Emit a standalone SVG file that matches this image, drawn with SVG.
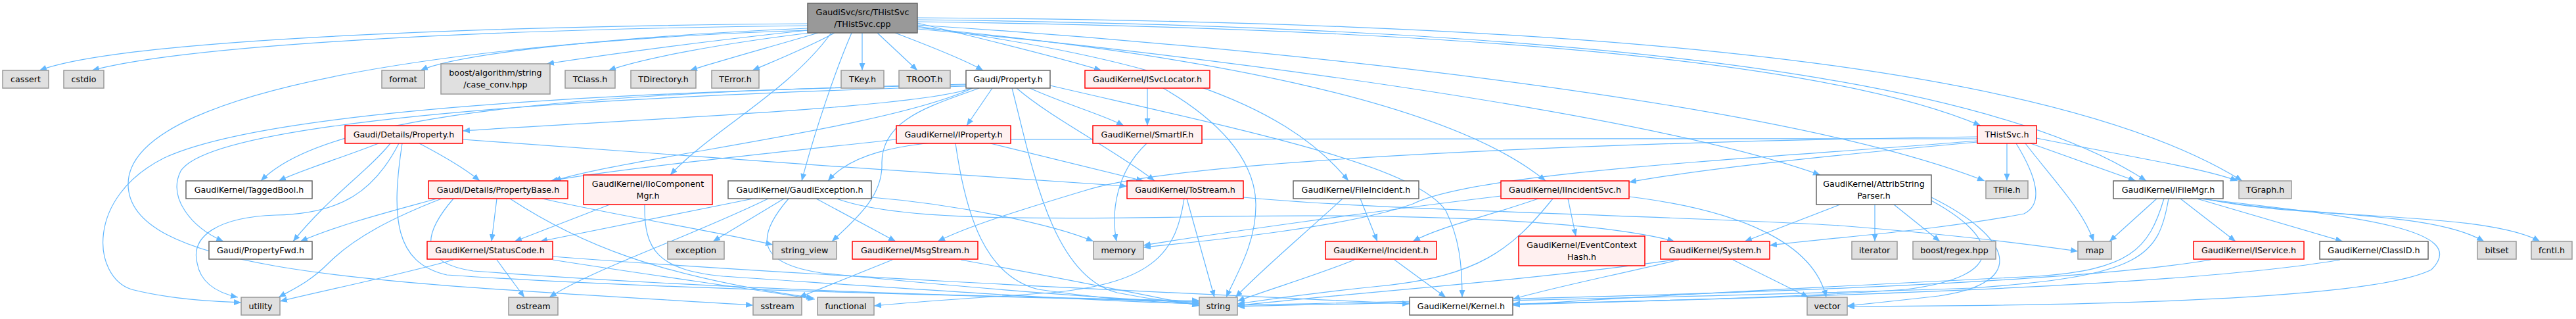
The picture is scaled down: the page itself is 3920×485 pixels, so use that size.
<svg xmlns="http://www.w3.org/2000/svg" width="3920" height="485" viewBox="0 0 3920 485">
<style>
.e{fill:none;stroke:#63b8ff;stroke-width:1.2;marker-end:url(#arr)}
.g{fill:#e0e0e0;stroke:#999999;stroke-width:1.5}
.w{fill:#ffffff;stroke:#666666;stroke-width:1.5}
.r{fill:#fff0f0;stroke:#ff0000;stroke-width:1.5}
.m{fill:#999999;stroke:#666666;stroke-width:1.5}
text{font-family:"DejaVu Sans","Liberation Sans",sans-serif;font-size:12.7px;fill:#000000;text-anchor:middle}
</style>
<defs>
<marker id="arr" markerUnits="userSpaceOnUse" markerWidth="11" markerHeight="9" refX="11" refY="4.5" orient="auto">
<path d="M0,0 L11,4.5 L0,9 z" fill="#63b8ff"/>
</marker>
</defs>
<rect width="3920" height="485" fill="#ffffff"/>
<g id="connectors">
<path class="e" d="M1229,36 C700,40 180,62 60,107"/>
<path class="e" d="M1229,39 C700,45 280,70 140,107"/>
<path class="e" d="M1229,43 C950,55 700,80 640,107"/>
<path class="e" d="M1229,46 C1080,62 930,82 832,97"/>
<path class="e" d="M1232,50 C1100,66 980,88 926,107"/>
<path class="e" d="M1245,50 C1170,72 1090,94 1050,107"/>
<path class="e" d="M1270,50 C1230,72 1180,92 1145,107"/>
<path class="e" d="M1312,50 L1312,107"/>
<path class="e" d="M1335,50 L1396,107"/>
<path class="e" d="M1362,50 C1420,72 1470,92 1496,107"/>
<path class="e" d="M1396,35 C1500,60 1620,90 1676,107"/>
<path class="e" d="M1265,50 C1200,140 1080,200 1020,266"/>
<path class="e" d="M1296,50 C1270,110 1240,200 1220,275"/>
<path class="e" d="M1396,40 C1750,90 1950,150 2052,275"/>
<path class="e" d="M1396,42 C1800,80 2200,150 2352,275"/>
<path class="e" d="M1396,44 C1800,80 2500,170 2770,266"/>
<path class="e" d="M1396,38 C1900,70 2700,150 3020,275"/>
<path class="e" d="M1396,33 C2300,45 2800,100 3014,191"/>
<path class="e" d="M1396,30 C2300,40 3000,100 3266,275"/>
<path class="e" d="M1396,27 C2300,33 3100,80 3412,275"/>
<path class="e" d="M1229,46 C800,60 195,120 195,280 C195,420 600,430 1146,464"/>
<path class="e" d="M1478,134 C1400,165 900,185 704,199"/>
<path class="e" d="M1480,134 C1350,195 950,240 843,275"/>
<path class="e" d="M1470,128 C900,140 500,170 397,275"/>
<path class="e" d="M1470,131 C800,150 320,190 275,260 C255,300 290,345 340,367"/>
<path class="e" d="M1470,129 C900,140 400,170 250,240 C130,300 140,420 200,440 C260,455 320,458 367,460"/>
<path class="e" d="M1510,134 L1471,191"/>
<path class="e" d="M1567,134 C1620,158 1680,175 1710,191"/>
<path class="e" d="M1547,134 C1600,180 1700,230 1757,275"/>
<path class="e" d="M1598,130 C1900,200 2150,250 2200,320 C2220,360 2225,400 2225,452"/>
<path class="e" d="M1540,134 C1570,250 1600,420 1700,445 C1750,455 1790,460 1825,463"/>
<path class="e" d="M1490,134 C1420,160 1340,180 1342,250 C1343,300 1300,335 1266,367"/>
<path class="e" d="M576,218 C520,240 460,258 424,275"/>
<path class="e" d="M594,218 C560,260 500,300 446,367"/>
<path class="e" d="M607,218 C570,290 520,325 420,327 C330,330 290,360 300,400 C305,430 330,445 362,452"/>
<path class="e" d="M638,218 C680,240 710,258 730,275"/>
<path class="e" d="M704,212 C1000,235 1400,262 1715,283"/>
<path class="e" d="M612,218 C595,330 600,400 680,418 C1000,440 1500,450 1825,459"/>
<path class="e" d="M665,302 C600,320 520,340 457,367"/>
<path class="e" d="M672,302 C600,330 540,360 500,400 C470,430 445,440 424,452"/>
<path class="e" d="M756,302 L748,367"/>
<path class="e" d="M825,302 C950,330 1080,350 1176,372"/>
<path class="e" d="M776,302 C880,370 1000,420 1238,453"/>
<path class="e" d="M690,302 C640,360 640,400 720,412 C1100,440 1500,452 1825,457"/>
<path class="e" d="M756,395 L798,452"/>
<path class="e" d="M690,395 C600,420 500,440 426,458"/>
<path class="e" d="M841,390 C1300,425 1900,450 2145,462"/>
<path class="e" d="M841,395 C1000,420 1150,440 1240,455"/>
<path class="e" d="M928,311 L783,367"/>
<path class="e" d="M981,311 C980,380 1000,410 1100,420 C1400,440 1600,455 1825,462"/>
<path class="e" d="M1146,302 L822,367"/>
<path class="e" d="M1193,302 L1085,367"/>
<path class="e" d="M1169,302 C1050,360 900,410 836,452"/>
<path class="e" d="M1200,302 C1150,360 1150,400 1250,415 C1500,440 1700,455 1825,460"/>
<path class="e" d="M1242,302 L1363,367"/>
<path class="e" d="M1326,300 C1450,310 1600,340 1664,367"/>
<path class="e" d="M1273,302 C1350,330 1500,335 1800,330 C2200,322 2450,340 2548,367"/>
<path class="e" d="M1358,395 L1216,452"/>
<path class="e" d="M1462,395 C1600,420 1750,450 1825,465"/>
<path class="e" d="M1364,212 C1200,230 950,255 838,275"/>
<path class="e" d="M1507,218 L1740,275"/>
<path class="e" d="M1454,218 C1470,330 1500,420 1580,440 C1680,455 1760,460 1825,462"/>
<path class="e" d="M1745,218 C1700,260 1690,320 1699,367"/>
<path class="e" d="M1746,134 L1746,191"/>
<path class="e" d="M1770,134 C1850,180 1910,240 1911,310 C1912,370 1880,420 1866,452"/>
<path class="e" d="M1806,302 L1848,452"/>
<path class="e" d="M1802,302 C1790,380 1760,430 1600,445 C1450,455 1380,460 1330,465"/>
<path class="e" d="M1892,300 C2100,320 2600,330 2800,343 C2950,355 3080,370 3162,382"/>
<path class="e" d="M2070,302 L2096,367"/>
<path class="e" d="M2043,302 C1980,360 1920,410 1880,452"/>
<path class="e" d="M2122,395 L2200,452"/>
<path class="e" d="M2061,395 C2000,420 1930,440 1883,458"/>
<path class="e" d="M2341,302 C2260,330 2190,345 2150,367"/>
<path class="e" d="M2386,302 L2398,359"/>
<path class="e" d="M2363,302 C2300,380 2250,420 2100,435 C2000,445 1930,455 1883,462"/>
<path class="e" d="M2479,299 C2650,320 2760,370 2779,452"/>
<path class="e" d="M2284,298 C2100,320 1850,355 1740,373"/>
<path class="e" d="M2555,395 C2450,420 2350,440 2302,455"/>
<path class="e" d="M2548,395 C2300,430 2000,450 1883,465"/>
<path class="e" d="M2637,395 L2752,452"/>
<path class="e" d="M2800,311 L2655,367"/>
<path class="e" d="M2853,311 L2853,367"/>
<path class="e" d="M2882,311 L2952,367"/>
<path class="e" d="M2939,305 C3040,360 3060,420 2900,440 C2700,455 2400,460 2302,462"/>
<path class="e" d="M2939,300 C3060,360 3090,430 2950,450 C2880,458 2840,462 2811,465"/>
<path class="e" d="M3054,218 L3054,275"/>
<path class="e" d="M3090,218 L3250,275"/>
<path class="e" d="M3099,210 C3250,240 3350,255 3405,275"/>
<path class="e" d="M3082,218 C3130,280 3170,320 3186,367"/>
<path class="e" d="M3068,218 C3100,270 3110,310 3080,325 C2950,350 2800,360 2693,373"/>
<path class="e" d="M3009,216 C2800,235 2600,255 2479,277"/>
<path class="e" d="M3009,208 C2500,215 1800,240 1650,290 C1550,320 1470,345 1427,367"/>
<path class="e" d="M3009,211 C2500,212 1700,208 1500,212 C1350,216 1290,240 1260,275"/>
<path class="e" d="M3009,214 C2700,240 2250,260 2150,310 C2050,345 1850,365 1740,376"/>
<path class="e" d="M3282,302 L3210,367"/>
<path class="e" d="M3318,302 L3402,367"/>
<path class="e" d="M3343,302 L3565,367"/>
<path class="e" d="M3353,302 C3500,330 3700,320 3780,367"/>
<path class="e" d="M3355,302 C3500,335 3780,320 3865,367"/>
<path class="e" d="M3346,302 C3600,330 3760,350 3700,410 C3600,460 3100,465 2811,466"/>
<path class="e" d="M3293,302 C3270,380 3240,410 3100,420 C2800,435 2500,450 2302,464"/>
<path class="e" d="M3300,302 C3285,390 3260,420 3000,438 C2500,455 2100,460 1883,466"/>
<path class="e" d="M3364,395 C3100,440 2300,455 1883,464"/>
<path class="e" d="M3561,395 C3300,440 2600,455 2302,463"/>
</g>
<g id="n_main"><rect class="m" x="1229" y="5" width="167" height="45"/><text x="1312.5" y="22.5">GaudiSvc/src/THistSvc</text><text x="1312.5" y="40.5">/THistSvc.cpp</text></g>
<g id="n_cassert"><rect class="g" x="4" y="107" width="70" height="27"/><text x="39" y="125">cassert</text></g>
<g id="n_cstdio"><rect class="g" x="97" y="107" width="61" height="27"/><text x="127.5" y="125">cstdio</text></g>
<g id="n_format"><rect class="g" x="581" y="107" width="65" height="27"/><text x="613.5" y="125">format</text></g>
<g id="n_boostcc"><rect class="g" x="671" y="97" width="166" height="46"/><text x="754" y="114.5">boost/algorithm/string</text><text x="754" y="132.5">/case_conv.hpp</text></g>
<g id="n_tclass"><rect class="g" x="860" y="107" width="76" height="27"/><text x="898" y="125">TClass.h</text></g>
<g id="n_tdir"><rect class="g" x="960" y="107" width="99" height="27"/><text x="1009.5" y="125">TDirectory.h</text></g>
<g id="n_terror"><rect class="g" x="1083" y="107" width="72" height="27"/><text x="1119" y="125">TError.h</text></g>
<g id="n_tkey"><rect class="g" x="1280" y="107" width="65" height="27"/><text x="1312.5" y="125">TKey.h</text></g>
<g id="n_troot"><rect class="g" x="1368" y="107" width="78" height="27"/><text x="1407" y="125">TROOT.h</text></g>
<g id="n_prop"><rect class="w" x="1470" y="107" width="128" height="27"/><text x="1534" y="125">Gaudi/Property.h</text></g>
<g id="n_isvcloc"><rect class="r" x="1651" y="107" width="190" height="27"/><text x="1746" y="125">GaudiKernel/ISvcLocator.h</text></g>
<g id="n_dprop"><rect class="r" x="525" y="191" width="179" height="27"/><text x="614.5" y="209">Gaudi/Details/Property.h</text></g>
<g id="n_iprop"><rect class="r" x="1364" y="191" width="174" height="27"/><text x="1451" y="209">GaudiKernel/IProperty.h</text></g>
<g id="n_smartif"><rect class="r" x="1663" y="191" width="166" height="27"/><text x="1746" y="209">GaudiKernel/SmartIF.h</text></g>
<g id="n_thistsvch"><rect class="r" x="3009" y="191" width="90" height="27"/><text x="3054" y="209">THistSvc.h</text></g>
<g id="n_tagged"><rect class="w" x="283" y="275" width="192" height="27"/><text x="379" y="293">GaudiKernel/TaggedBool.h</text></g>
<g id="n_pbase"><rect class="r" x="652" y="275" width="212" height="27"/><text x="758" y="293">Gaudi/Details/PropertyBase.h</text></g>
<g id="n_iio"><rect class="r" x="888" y="266" width="196" height="45"/><text x="986" y="283.5">GaudiKernel/IIoComponent</text><text x="986" y="301.5">Mgr.h</text></g>
<g id="n_gexc"><rect class="w" x="1108" y="275" width="218" height="27"/><text x="1217" y="293">GaudiKernel/GaudiException.h</text></g>
<g id="n_tostream"><rect class="r" x="1715" y="275" width="177" height="27"/><text x="1803.5" y="293">GaudiKernel/ToStream.h</text></g>
<g id="n_fileinc"><rect class="w" x="1968" y="275" width="191" height="27"/><text x="2063.5" y="293">GaudiKernel/FileIncident.h</text></g>
<g id="n_iincsvc"><rect class="r" x="2284" y="275" width="195" height="27"/><text x="2381.5" y="293">GaudiKernel/IIncidentSvc.h</text></g>
<g id="n_attrib"><rect class="w" x="2764" y="266" width="175" height="45"/><text x="2851.5" y="283.5">GaudiKernel/AttribString</text><text x="2851.5" y="301.5">Parser.h</text></g>
<g id="n_tfile"><rect class="g" x="3022" y="275" width="64" height="27"/><text x="3054" y="293">TFile.h</text></g>
<g id="n_ifilemgr"><rect class="w" x="3216" y="275" width="167" height="27"/><text x="3299.5" y="293">GaudiKernel/IFileMgr.h</text></g>
<g id="n_tgraph"><rect class="g" x="3407" y="275" width="80" height="27"/><text x="3447" y="293">TGraph.h</text></g>
<g id="n_propfwd"><rect class="w" x="318" y="367" width="157" height="27"/><text x="396.5" y="385">Gaudi/PropertyFwd.h</text></g>
<g id="n_status"><rect class="r" x="650" y="367" width="191" height="27"/><text x="745.5" y="385">GaudiKernel/StatusCode.h</text></g>
<g id="n_exception"><rect class="g" x="1016" y="367" width="86" height="27"/><text x="1059" y="385">exception</text></g>
<g id="n_strview"><rect class="g" x="1176" y="367" width="97" height="27"/><text x="1224.5" y="385">string_view</text></g>
<g id="n_msgstream"><rect class="r" x="1297" y="367" width="191" height="27"/><text x="1392.5" y="385">GaudiKernel/MsgStream.h</text></g>
<g id="n_memory"><rect class="g" x="1664" y="367" width="76" height="27"/><text x="1702" y="385">memory</text></g>
<g id="n_incident"><rect class="r" x="2017" y="367" width="169" height="27"/><text x="2101.5" y="385">GaudiKernel/Incident.h</text></g>
<g id="n_evhash"><rect class="r" x="2311" y="359" width="192" height="45"/><text x="2407" y="376.5">GaudiKernel/EventContext</text><text x="2407" y="394.5">Hash.h</text></g>
<g id="n_system"><rect class="r" x="2527" y="367" width="166" height="27"/><text x="2610" y="385">GaudiKernel/System.h</text></g>
<g id="n_iterator"><rect class="g" x="2818" y="367" width="69" height="27"/><text x="2852.5" y="385">iterator</text></g>
<g id="n_regex"><rect class="g" x="2911" y="367" width="126" height="27"/><text x="2974" y="385">boost/regex.hpp</text></g>
<g id="n_map"><rect class="g" x="3162" y="367" width="51" height="27"/><text x="3187.5" y="385">map</text></g>
<g id="n_iservice"><rect class="r" x="3338" y="367" width="168" height="27"/><text x="3422" y="385">GaudiKernel/IService.h</text></g>
<g id="n_classid"><rect class="w" x="3530" y="367" width="165" height="27"/><text x="3612.5" y="385">GaudiKernel/ClassID.h</text></g>
<g id="n_bitset"><rect class="g" x="3770" y="367" width="59" height="27"/><text x="3799.5" y="385">bitset</text></g>
<g id="n_fcntl"><rect class="g" x="3852" y="367" width="62" height="27"/><text x="3883" y="385">fcntl.h</text></g>
<g id="n_utility"><rect class="g" x="367" y="452" width="59" height="27"/><text x="396.5" y="470">utility</text></g>
<g id="n_ostream"><rect class="g" x="774" y="452" width="75" height="27"/><text x="811.5" y="470">ostream</text></g>
<g id="n_sstream"><rect class="g" x="1146" y="452" width="74" height="27"/><text x="1183" y="470">sstream</text></g>
<g id="n_functional"><rect class="g" x="1244" y="452" width="86" height="27"/><text x="1287" y="470">functional</text></g>
<g id="n_string"><rect class="g" x="1825" y="452" width="58" height="27"/><text x="1854" y="470">string</text></g>
<g id="n_kernel"><rect class="w" x="2145" y="452" width="157" height="27"/><text x="2223.5" y="470">GaudiKernel/Kernel.h</text></g>
<g id="n_vector"><rect class="g" x="2750" y="452" width="61" height="27"/><text x="2780.5" y="470">vector</text></g>
</svg>
